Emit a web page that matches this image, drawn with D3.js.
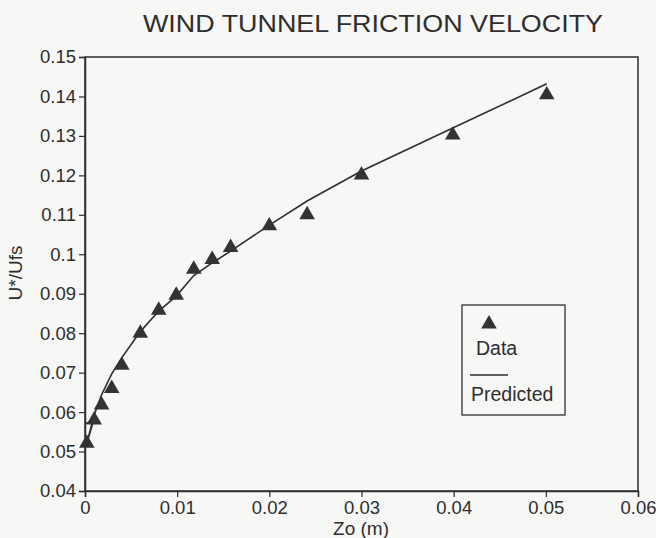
<!DOCTYPE html>
<html>
<head>
<meta charset="utf-8">
<script src="https://cdn.jsdelivr.net/npm/d3@7"></script>
<style>
  html, body { margin: 0; padding: 0; background: #f7f7f5; }
  svg { display: block; }
  text { font-family: "Liberation Sans", Arial, Helvetica, sans-serif; fill: #2e2e2e; }
</style>
</head>
<body>
<svg id="chart" width="656" height="538"></svg>
<script>
// ---- data ----
const dataZo = [0.0002, 0.0010, 0.0018, 0.0029, 0.0040, 0.0060, 0.0080, 0.0099, 0.0118, 0.0138, 0.0158, 0.0200, 0.0241, 0.0300, 0.0399, 0.0501];
const dataU  = [0.0521, 0.0580, 0.0618, 0.0660, 0.0719, 0.0800, 0.0858, 0.0896, 0.0962, 0.0987, 0.1017, 0.1072, 0.1100, 0.1201, 0.1302, 0.1404];
const predZo = [0, 0.00085, 0.0002, 0.0010, 0.0018, 0.0029, 0.0040, 0.0060, 0.0080, 0.0099, 0.0118, 0.0138, 0.0158, 0.0200, 0.0241, 0.0300, 0.0399, 0.0501];
const predU  = [0.0572, 0.0572, 0.0521, 0.0593, 0.0644, 0.0697, 0.0738, 0.0804, 0.0856, 0.0894, 0.0946, 0.0978, 0.1008, 0.1074, 0.1135, 0.1211, 0.1320, 0.1432];
const xTickValues = [0, 0.01, 0.02, 0.03, 0.04, 0.05, 0.06];
const xTickLabels = ["0", "0.01", "0.02", "0.03", "0.04", "0.05", "0.06"];
const yTickValues = [0.04, 0.05, 0.06, 0.07, 0.08, 0.09, 0.10, 0.11, 0.12, 0.13, 0.14, 0.15];
const yTickLabels = ["0.04", "0.05", "0.06", "0.07", "0.08", "0.09", "0.1", "0.11", "0.12", "0.13", "0.14", "0.15"];
const titleText = "WIND TUNNEL FRICTION VELOCITY";
const xLabel = "Zo (m)";
const yLabel = "U*/Ufs";
const legendLabels = ["Data", "Predicted"];

// ---- layout ----
const W = 656, H = 538;
const m = { left: 85, right: 18, top: 57, bottom: 47 };
const ink = "#2e2e2e";

const svg = d3.select("#chart");
const x = d3.scaleLinear().domain([0, 0.06]).range([m.left, W - m.right]);
const y = d3.scaleLinear().domain([0.04, 0.15]).range([H - m.bottom, m.top]);

// frame (top and right)
svg.append("rect")
  .attr("x", x(0)).attr("y", y(0.15))
  .attr("width", x(0.06) - x(0)).attr("height", y(0.04) - y(0.15))
  .attr("fill", "none").attr("stroke", ink).attr("stroke-width", 1.5);

// x axis
const xAxis = svg.append("g")
  .attr("transform", `translate(0,${y(0.04)})`)
  .call(d3.axisBottom(x).tickValues(xTickValues)
    .tickFormat((d, i) => xTickLabels[i]).tickSize(6).tickPadding(4));
xAxis.select(".domain").attr("stroke", ink).attr("stroke-width", 1.5);
xAxis.selectAll(".tick line").attr("stroke", ink).attr("stroke-width", 1.2);
xAxis.selectAll("text").attr("font-size", 18.5).attr("fill", ink)
  .style("font-family", "'Liberation Sans', Arial, sans-serif");

// y axis
const yAxis = svg.append("g")
  .attr("transform", `translate(${x(0)},0)`)
  .call(d3.axisLeft(y).tickValues(yTickValues)
    .tickFormat((d, i) => yTickLabels[i]).tickSize(6).tickPadding(3));
yAxis.select(".domain").attr("stroke", ink).attr("stroke-width", 1.5);
yAxis.selectAll(".tick line").attr("stroke", ink).attr("stroke-width", 1.2);
yAxis.selectAll("text").attr("font-size", 18.5).attr("fill", ink)
  .style("font-family", "'Liberation Sans', Arial, sans-serif");

// predicted line
const pred = predZo.map((d, i) => [d, predU[i]]);
svg.append("path")
  .datum(pred)
  .attr("d", d3.line().x(d => x(d[0])).y(d => y(d[1])))
  .attr("fill", "none").attr("stroke", ink).attr("stroke-width", 1.6);

// data triangles
const tri = d3.symbol().type(d3.symbolTriangle).size(105);
svg.append("g").selectAll("path")
  .data(dataZo.map((d, i) => [d, dataU[i]]))
  .join("path")
  .attr("d", tri)
  .attr("transform", d => `translate(${x(d[0])},${y(d[1])})`)
  .attr("fill", "#333");

// title
svg.append("text")
  .attr("x", 373).attr("y", 32)
  .attr("text-anchor", "middle")
  .attr("font-size", 24)
  .attr("textLength", 460)
  .attr("lengthAdjust", "spacingAndGlyphs")
  .attr("fill", "#333")
  .text(titleText);

// axis titles
svg.append("text")
  .attr("x", 361).attr("y", 535)
  .attr("text-anchor", "middle")
  .attr("font-size", 19)
  .text(xLabel);

svg.append("text")
  .attr("transform", "translate(22,273) rotate(-90)")
  .attr("text-anchor", "middle")
  .attr("font-size", 19)
  .text(yLabel);

// legend
const lg = svg.append("g");
lg.append("rect")
  .attr("x", 462).attr("y", 305)
  .attr("width", 103).attr("height", 110)
  .attr("fill", "none").attr("stroke", ink).attr("stroke-width", 1.3);
lg.append("path")
  .attr("d", tri)
  .attr("transform", "translate(489,324)")
  .attr("fill", "#333");
lg.append("text")
  .attr("x", 476).attr("y", 355)
  .attr("font-size", 19.5)
  .text(legendLabels[0]);
lg.append("line")
  .attr("x1", 470).attr("x2", 508).attr("y1", 375).attr("y2", 375)
  .attr("stroke", ink).attr("stroke-width", 1.5);
lg.append("text")
  .attr("x", 471).attr("y", 401)
  .attr("font-size", 19.5)
  .text(legendLabels[1]);
</script>
</body>
</html>
